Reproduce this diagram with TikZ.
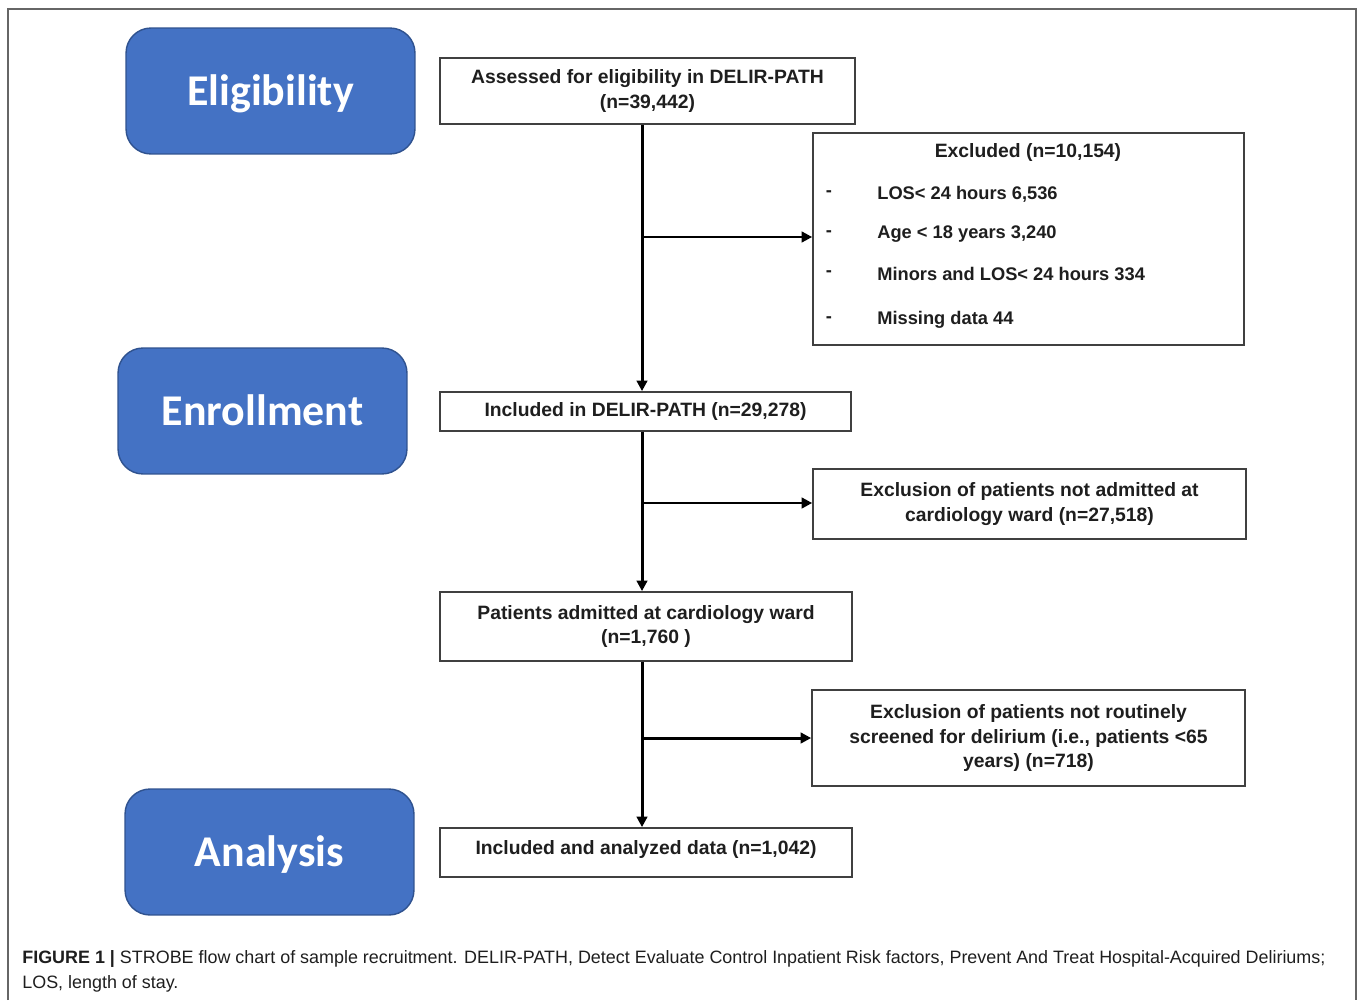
\documentclass[tikz,border=0pt]{standalone}
\usepackage{fontspec}
\setmainfont{Liberation Sans}
\newfontfamily\stagefont{Carlito}
\usepackage{xcolor}
\usepackage{tikz}
\definecolor{stage}{RGB}{68, 114, 196}
\definecolor{stageedge}{RGB}{47, 82, 143}
\definecolor{ink}{RGB}{30, 30, 30}
\usetikzlibrary{arrows.meta, positioning, calc}

\begin{document}
\begin{tikzpicture}[x=0.02cm, y=-0.02cm,
    stagebox/.style={draw=stageedge, line width=0.8pt, fill=stage, rounded corners=0.5cm,
                     minimum width=5.78cm, minimum height=2.52cm, text=white,
                     text height=0.8cm, text depth=0.23cm,
                     font=\stagefont\fontsize{25}{30}\selectfont\bfseries},
    flow/.style={draw=black!75, line width=1pt, align=center, text=ink, inner sep=0pt,
                 font=\fontsize{11}{14.2}\selectfont\bfseries},
    item/.style={text=ink, inner sep=0pt, font=\fontsize{10.4}{14}\selectfont\bfseries},
    arr/.style={line width=1.7pt, -{Triangle[length=6pt, width=6pt]}}
]
    \useasboundingbox (0,0) rectangle (1358,1000);
    \draw[black!60, line width=0.6pt] (8,1000) -- (8,9) -- (1356,9) -- (1356,1000);

    % stages
    \node[stagebox] (elig) at (270.5,91) {Eligibility};
    \node[stagebox] (enrol) at (262.5,411) {Enrollment};
    \node[stagebox] (analysis) at (269.5,852) {Analysis};

    % main flow
    \node[flow, minimum width=8.3cm, minimum height=1.32cm] (assess) at (647.5,91)
        {Assessed for eligibility in DELIR-PATH\\(n=39,442)};
    \node[flow, minimum width=8.22cm, minimum height=0.78cm] (incl) at (645.5,411.5)
        {Included in DELIR-PATH (n=29,278)};
    \node[flow, minimum width=8.24cm, minimum height=1.38cm] (admit) at (646,626.5)
        {Patients admitted at cardiology ward\\(n=1,760 )};
    \node[flow, minimum width=8.24cm, minimum height=0.98cm, text height=7pt, text depth=4.7pt]
        (final) at (646,852.5) {Included and analyzed data (n=1,042)};

    % exclusions
    \node[flow, minimum width=8.62cm, minimum height=4.24cm] (excl1) at (1028.5,239) {};
    \node[item, font=\fontsize{11}{14}\selectfont\bfseries] (excltitle) at (1028,153) {Excluded (n=10,154)};
    \node[item] (d1) at (829,194) {-};
    \node[item] (d2) at (829,234) {-};
    \node[item] (d3) at (829,274) {-};
    \node[item] (d4) at (829,320) {-};
    \node[item, anchor=west] (los) at (877,194) {LOS< 24 hours 6,536};
    \node[item, anchor=west] (age) at (877,234) {Age < 18 years 3,240};
    \node[item, anchor=west] (minors) at (877,274) {Minors and LOS< 24 hours 334};
    \node[item, anchor=west] (missing) at (877,320) {Missing data 44};
    \node[flow, minimum width=8.66cm, minimum height=1.40cm] (excl2) at (1029.5,504)
        {Exclusion of patients not admitted at\\cardiology ward (n=27,518)};
    \node[flow, minimum width=8.66cm, minimum height=1.92cm] (excl3) at (1028.5,738)
        {Exclusion of patients not routinely\\screened for delirium (i.e., patients <65\\years) (n=718)};

    % connectors
    \coordinate (spine) at (642,0);
    \draw[arr] (assess.south -| spine) -- (incl.north -| spine);
    \draw[arr] (incl.south -| spine) -- (admit.north -| spine);
    \draw[arr] (admit.south -| spine) -- (final.north -| spine);
    \coordinate (b1) at (642,237);
    \coordinate (b2) at (642,503);
    \coordinate (b3) at (642,738);
    \draw[arr] (b1) -- (b1 -| excl1.west);
    \draw[arr] (b2) -- (b2 -| excl2.west);
    \draw[arr] (b3) -- (b3 -| excl3.west);

    % caption
    \node[anchor=west, inner sep=0pt, text=ink, font=\fontsize{10.2}{12}\selectfont] (cap1) at (22,959)
        {\textbf{FIGURE 1 |} STROBE flow chart of sample recruitment. DELIR-PATH, Detect Evaluate Control Inpatient Risk factors, Prevent And Treat Hospital-Acquired Deliriums;};
    \node[anchor=west, inner sep=0pt, text=ink, font=\fontsize{10.2}{12}\selectfont] (cap2) at (22,984)
        {LOS, length of stay.};
\end{tikzpicture}
\end{document}
